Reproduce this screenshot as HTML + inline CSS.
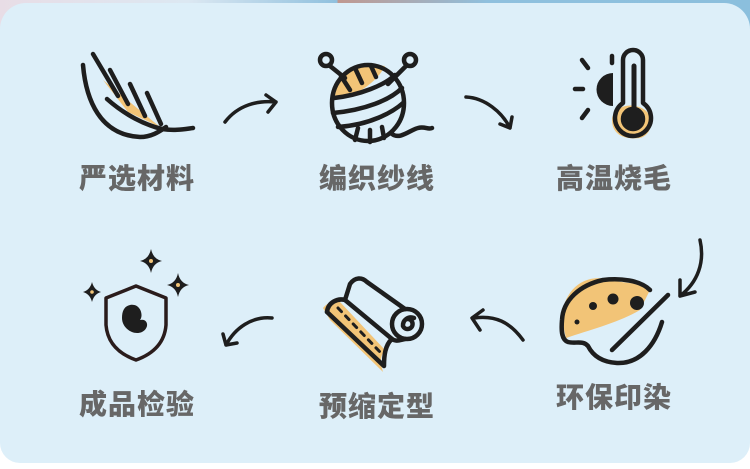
<!DOCTYPE html><html><head><meta charset="utf-8"><style>
body{margin:0;width:750px;height:469px;overflow:hidden;background:#fff;position:relative;font-family:"Liberation Sans","Noto Sans CJK SC",sans-serif}
.top{position:absolute;left:0;top:0;width:750px;height:40px;background:linear-gradient(90deg,#e8dde6 0%,#dce8f2 25%,#8fc0de 45%,#c09890 43%,#8fc0de 65%,#8bbfdd 100%)}
.card{position:absolute;left:0;top:3px;width:750px;height:460px;background:#ddeff9;border-radius:26px 26px 20px 20px}
.l{position:absolute;font-size:28px;font-weight:900;color:#676767;width:200px;text-align:center;letter-spacing:1px;line-height:32px}
svg{position:absolute;left:0;top:0}
</style></head><body>
<div class="top"></div><div class="card"></div>
<div class="l" style="left:37px;top:163px">严选材料</div>
<div class="l" style="left:277px;top:163px">编织纱线</div>
<div class="l" style="left:514px;top:163px">高温烧毛</div>
<div class="l" style="left:37px;top:389px">成品检验</div>
<div class="l" style="left:277px;top:391px">预缩定型</div>
<div class="l" style="left:514px;top:382px">环保印染</div>
<svg width="750" height="469" viewBox="0 0 750 469" fill="none" stroke="#1e1e1e" stroke-width="4.5" stroke-linecap="round" stroke-linejoin="round">
<!-- feather -->
<path d="M103,80 L160,127 L128,112 Z" fill="#f2c477" stroke="none"/>
<path d="M83,65 C86,100 100,135 140,137 C152,137 160,131 166,127"/>
<path d="M107,99 C125,115 145,125 162,129 C175,131 185,129 193,128"/>
<path d="M93,54 L118,96 M110,70 L128,104 M130,84 L145,116 M147,93 L161,124"/>
<!-- yarn -->
<path d="M335,95 C340,70 360,62 385,66 C378,80 360,95 335,100 Z" fill="#f2c477" stroke="none"/>
<ellipse cx="368" cy="103" rx="36" ry="38"/>
<circle cx="326" cy="60" r="6"/><circle cx="410" cy="60" r="6"/>
<path d="M330,66 L345,78 M406,66 L388,84"/>
<path d="M341,76 L350,90 M355,68 L362,83 M371,66 L376,77 M334,98 C360,95 385,85 395,75"/>
<path d="M333,113 C365,110 390,100 402,88 M338,127 C370,125 393,112 403,103"/>
<path d="M355,140 L358,128 M370,142 L370,130 M384,138 L382,127"/>
<path d="M392,134 C400,140 410,130 418,128 C425,126 428,130 432,128"/>
<!-- thermometer -->
<path d="M612,120 C612,108 630,100 645,110 C655,118 652,135 640,138 C625,140 612,135 612,120 Z" fill="#f2c477" stroke="none"/>
<path d="M623,60 a10,10 0 0 1 20,0 V103 a18,18 0 1 1 -20,0 Z"/>
<circle cx="633" cy="119" r="10" fill="#1e1e1e"/>
<path d="M634,66 V112" stroke-width="5"/>
<path d="M613,73 a16,16 0 0 0 0,33 Z" fill="#1e1e1e" stroke="none"/>
<path d="M612,56 V63 M582,60 L588,68 M575,89 H583 M582,118 L588,110"/>
<!-- arrows top -->
<path d="M225,122 C238,105 258,100 276,102 M266,95 L276,102 L268,112" stroke-width="3.5"/>
<path d="M466,97 C485,98 502,112 510,128 M500,124 L510,128 L512,117" stroke-width="3.5"/>
<!-- palette -->
<path d="M562,320 C562,290 585,272 610,280 C628,284 640,282 650,290 L640,310 C620,322 590,330 566,338 Z" fill="#f2c477" stroke="none"/>
<path d="M650,290 C640,280 620,278 603,280 C580,285 563,300 562,320 C561,332 562,340 568,342 C575,344 583,340 588,346 C592,354 600,362 617,363 C640,364 655,345 662,322"/>
<circle cx="637" cy="303" r="7" fill="#1e1e1e" stroke="none"/>
<circle cx="613" cy="299" r="5.5" fill="#1e1e1e" stroke="none"/>
<circle cx="593" cy="306" r="4" fill="#1e1e1e" stroke="none"/>
<circle cx="577" cy="322" r="2.5" fill="#1e1e1e" stroke="none"/>
<path d="M668,295 L612,350"/>
<path d="M700,240 C705,262 698,282 680,296 M680,280 L680,296 L695,292" stroke-width="3.5"/>
<!-- arrows bottom -->
<path d="M523,340 C510,322 495,315 474,318 M483,310 L472,318 L480,330" stroke-width="3.5"/>
<path d="M272,318 C252,316 235,328 226,345 M223,334 L226,345 L237,343" stroke-width="3.5"/>
<!-- roll -->
<path d="M323,308 C328,302 335,300 340,302 L385,350 C378,358 382,368 383,372 L330,320 Z" fill="#f2c477" stroke="none"/>
<path d="M327,312 C328,302 338,298 345,300 L350,284 C355,277 362,277 367,282 L405,309"/>
<circle cx="407" cy="324" r="15"/>
<path d="M407,319 a5,5 0 1 1 -4,7 a8,8 0 0 1 11,-8"/>
<path d="M345,300 L392,339 C385,345 384,356 384,366 L327,312"/>
<path d="M392,339 C396,342 400,340 405,339"/>
<path d="M338,308 L380,352" stroke-dasharray="5,6" stroke-width="3"/>
<!-- shield -->
<path d="M136,286 L106,298 L106,325 Q108,350 136,360 Q164,350 166,325 L166,298 Z" stroke-width="3.5" stroke="#2a1c1c"/>
<path d="M130,305 C140,303 144,315 140,320 C148,318 150,328 142,332 C133,336 122,328 122,318 C122,310 125,306 130,305 Z" fill="#1e1e1e" stroke="none"/>
<g fill="#1e1e1e" stroke="none">
<path d="M151,249 Q153,259 162,261 Q153,263 151,273 Q149,263 140,261 Q149,259 151,249 Z"/>
<path d="M178,273 Q180,283 189,285 Q180,287 178,297 Q176,287 167,285 Q176,283 178,273 Z"/>
<path d="M92,282 Q94,290 101,292 Q94,294 92,302 Q90,294 83,292 Q90,290 92,282 Z"/>
</g>
<g fill="#f2c477" stroke="none"><circle cx="151" cy="261" r="2"/><circle cx="178" cy="285" r="2"/><circle cx="92" cy="292" r="1.8"/></g>
</svg>
</body></html>
